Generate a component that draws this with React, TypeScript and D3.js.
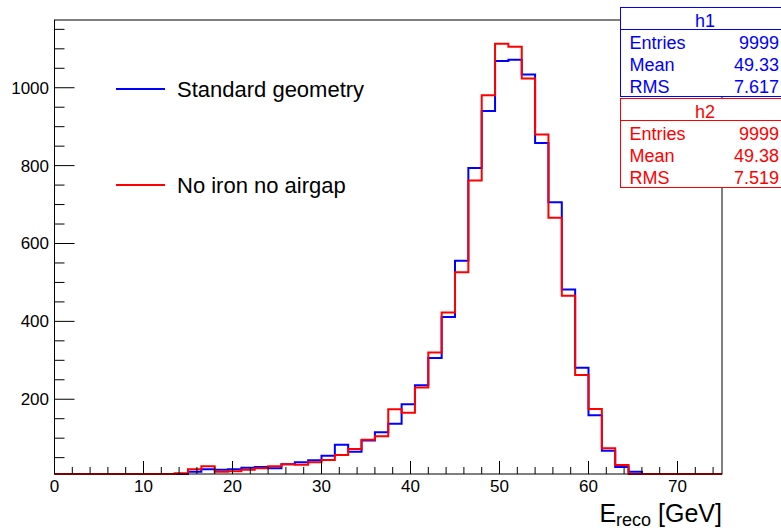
import React from 'react'
import * as d3 from 'd3'

// 50 bins of 1.5 GeV from 0 to 75
const binLow = 0
const binWidth = 1.5
const h1Counts = [
  0, 0, 0, 0, 0, 0, 0, 0, 2, 6,
  14, 20, 19, 20, 24, 26, 23, 33, 38, 43,
  55, 83, 65, 94, 115, 137, 187, 236, 306, 411,
  556, 794, 940, 1069, 1072, 1034, 858, 706, 482, 281,
  159, 68, 26, 14, 2, 0, 0, 0, 0, 0,
]
const h2Counts = [
  0, 0, 0, 0, 0, 0, 0, 0, 5, 10,
  20, 28, 14, 15, 19, 23, 28, 33, 32, 38,
  44, 57, 72, 96, 105, 174, 165, 230, 320, 423,
  526, 762, 981, 1113, 1105, 1024, 880, 666, 466, 262,
  175, 74, 31, 5, 0, 0, 0, 0, 0, 0,
]
const xTicks = [0, 10, 20, 30, 40, 50, 60, 70]
const yTicks = [200, 400, 600, 800, 1000]
const legendLabels = ['Standard geometry', 'No iron no airgap']
const statNames = ['h1', 'h2']
const statRows = [
  [['Entries', '9999'], ['Mean', '49.33'], ['RMS', '7.617']],
  [['Entries', '9999'], ['Mean', '49.38'], ['RMS', '7.519']],
]
const colors = ['#0000ff', '#ff0000']

const W = 781
const H = 531
const left = 54.5
const right = 722
const top = 20
const bottom = 474
const font = '"Liberation Sans", Arial, Helvetica, sans-serif'

function App() {
  const x = d3.scaleLinear().domain([0, 75]).range([left, right])
  const y = d3.scaleLinear().domain([8, 1174]).range([bottom, top])

  const stepPath = (counts: number[]) => {
    const pts: [number, number][] = []
    counts.forEach((c, i) => {
      const v = Math.max(c, 8)
      const x0 = binLow + i * binWidth
      pts.push([x(x0), y(v)])
      pts.push([x(x0 + binWidth), y(v)])
    })
    return d3.line()(pts) as string
  }

  const xMinor = d3.range(0, 75.01, 2).filter(v => v % 10 !== 0)
  const yMinor = d3.range(50, 1174, 50).filter(v => v % 200 !== 0)

  return (
    <svg width={W} height={H} style={{ position: 'absolute', left: 0, top: 0, background: '#fff' }} fontFamily={font}>
      <rect width={W} height={H} fill="#fff" />

      {/* histograms */}
      {[h1Counts, h2Counts].map((c, i) => (
        <path key={i} d={stepPath(c)} fill="none" stroke={colors[i]} strokeWidth={2} />
      ))}

      {/* frame */}
      <rect x={left} y={top} width={right - left} height={bottom - top} fill="none" stroke="#000" strokeWidth={1} />

      {/* x axis */}
      {xTicks.map(t => (
        <g key={t}>
          <line x1={x(t)} x2={x(t)} y1={bottom} y2={bottom - 13} stroke="#000" />
          <text x={x(t)} y={492} textAnchor="middle" fontSize={17}>{t}</text>
        </g>
      ))}
      {xMinor.map(t => (
        <line key={t} x1={x(t)} x2={x(t)} y1={bottom} y2={bottom - 7} stroke="#000" />
      ))}
      <text x={right} y={522} textAnchor="end" fontSize={25}>
        E<tspan fontSize={18} dy={4}>reco</tspan><tspan dy={-4}> [GeV]</tspan>
      </text>

      {/* y axis */}
      {yTicks.map(t => (
        <g key={t}>
          <line x1={left} x2={left + 20} y1={y(t)} y2={y(t)} stroke="#000" />
          <text x={49} y={y(t) + 6} textAnchor="end" fontSize={17}>{t}</text>
        </g>
      ))}
      {yMinor.map(t => (
        <line key={t} x1={left} x2={left + 10} y1={y(t)} y2={y(t)} stroke="#000" />
      ))}

      {/* legend */}
      {legendLabels.map((l, i) => (
        <g key={l} transform={`translate(0,${89 + i * 96})`}>
          <line x1={116} x2={165} y1={0} y2={0} stroke={colors[i]} strokeWidth={2} />
          <text x={177} y={8} fontSize={22}>{l}</text>
        </g>
      ))}

      {/* stat boxes */}
      {statNames.map((n, i) => (
        <g key={n} transform={`translate(620.5,${7.5 + i * 91})`} fill={colors[i]}>
          <rect x={0} y={0} width={200} height={89} fill="#fff" stroke={colors[i]} />
          <line x1={0} x2={200} y1={22} y2={22} stroke={colors[i]} />
          <text x={84.5} y={19} textAnchor="middle" fontSize={18}>{n}</text>
          {statRows[i].map((r, j) => (
            <g key={r[0]}>
              <text x={9} y={41 + j * 22} fontSize={18}>{r[0]}</text>
              <text x={158.5} y={41 + j * 22} textAnchor="end" fontSize={18}>{r[1]}</text>
            </g>
          ))}
        </g>
      ))}
    </svg>
  )
}

export default App
